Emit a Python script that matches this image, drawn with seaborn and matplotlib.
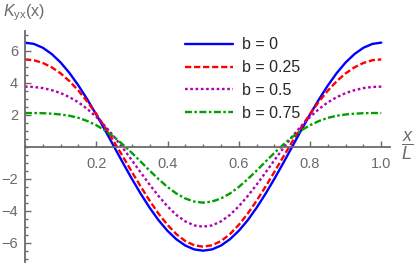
import numpy as np
import pandas as pd
import seaborn as sns
import matplotlib.pyplot as plt
from matplotlib.ticker import MultipleLocator, FixedLocator

x = [0.0, 0.025, 0.05, 0.075, 0.1, 0.125, 0.15, 0.175, 0.2, 0.225, 0.25,
     0.275, 0.3, 0.325, 0.35, 0.375, 0.4, 0.425, 0.45, 0.475, 0.5,
     0.525, 0.55, 0.575, 0.6, 0.625, 0.65, 0.675, 0.7, 0.725, 0.75,
     0.775, 0.8, 0.825, 0.85, 0.875, 0.9, 0.925, 0.95, 0.975, 1.0]

k_b0 = [6.50, 6.42, 6.18, 5.79, 5.26, 4.60, 3.82, 2.95, 2.01, 1.02, 0.00,
        -1.02, -2.01, -2.95, -3.82, -4.60, -5.26, -5.79, -6.18, -6.42, -6.50,
        -6.42, -6.18, -5.79, -5.26, -4.60, -3.82, -2.95, -2.01, -1.02, 0.00,
        1.02, 2.01, 2.95, 3.82, 4.60, 5.26, 5.79, 6.18, 6.42, 6.50]
k_b025 = [5.45, 5.40, 5.23, 4.96, 4.58, 4.09, 3.50, 2.81, 2.04, 1.20, 0.30,
          -0.63, -1.58, -2.50, -3.38, -4.19, -4.89, -5.47, -5.90, -6.16, -6.25,
          -6.16, -5.90, -5.47, -4.89, -4.19, -3.38, -2.50, -1.58, -0.63, 0.30,
          1.20, 2.04, 2.81, 3.50, 4.09, 4.58, 4.96, 5.23, 5.40, 5.45]
k_b05 = [3.75, 3.73, 3.66, 3.53, 3.35, 3.09, 2.77, 2.35, 1.86, 1.28, 0.63,
         -0.09, -0.85, -1.62, -2.38, -3.09, -3.73, -4.27, -4.67, -4.92, -5.00,
         -4.92, -4.67, -4.27, -3.73, -3.09, -2.38, -1.62, -0.85, -0.09, 0.63,
         1.28, 1.86, 2.35, 2.77, 3.09, 3.35, 3.53, 3.66, 3.73, 3.75]
k_b075 = [2.10, 2.10, 2.09, 2.06, 2.01, 1.93, 1.80, 1.60, 1.34, 1.01, 0.60,
          0.13, -0.39, -0.94, -1.50, -2.03, -2.52, -2.93, -3.24, -3.43, -3.50,
          -3.43, -3.24, -2.93, -2.52, -2.03, -1.50, -0.94, -0.39, 0.13, 0.60,
          1.01, 1.34, 1.60, 1.80, 1.93, 2.01, 2.06, 2.09, 2.10, 2.10]

labels = ['b = 0', 'b = 0.25', 'b = 0.5', 'b = 0.75']
colors = ['#0000ff', '#ff0000', '#b000b0', '#00a000']
styles = ['-', (0, (4.5, 2)), (0, (1.9, 1.9)), (0, (5, 1.8, 1.8, 1.8))]

sns.set_style('ticks')
plt.rcParams['font.family'] = ['Liberation Sans', 'DejaVu Sans']
plt.rcParams['mathtext.fontset'] = 'custom'
plt.rcParams['mathtext.it'] = 'Liberation Sans:italic'
plt.rcParams['mathtext.rm'] = 'Liberation Sans'
plt.rcParams['lines.scale_dashes'] = False

gray = '#6a6a6a'
fig = plt.figure(figsize=(4.15, 2.64), dpi=100)
ax = fig.add_axes([0.0602, 0.008, 0.880, 0.873])

for ys, lab, c, ls in zip([k_b0, k_b025, k_b05, k_b075], labels, colors, styles):
    df = pd.DataFrame({'x': x, 'k': ys})
    sns.lineplot(data=df, x='x', y='k', ax=ax, color=c, label=lab,
                 linestyle=ls, linewidth=1.7)

ax.set_xlim(0, 1.025)
ax.set_ylim(-7.2, 7.2)
for s in ['top', 'right']:
    ax.spines[s].set_visible(False)
ax.spines['bottom'].set_position(('data', 0))
ax.spines['left'].set_position(('data', 0))
for s in ['bottom', 'left']:
    ax.spines[s].set_color(gray)
    ax.spines[s].set_linewidth(1.3)

ax.xaxis.set_major_locator(FixedLocator([0.2, 0.4, 0.6, 0.8, 1.0]))
ax.xaxis.set_minor_locator(MultipleLocator(0.05))
ax.yaxis.set_major_locator(FixedLocator([-6, -4, -2, 2, 4, 6]))
ax.yaxis.set_minor_locator(MultipleLocator(0.5))
ax.set_xticklabels(['0.2', '0.4', '0.6', '0.8', '1.0'])
ax.set_yticklabels(['\u22126', '\u22124', '\u22122', '2', '4', '6'])
ax.tick_params(which='both', direction='in', color=gray, labelcolor=gray,
               labelsize=10.5, width=1.0)
ax.tick_params(axis='x', which='major', length=4.5, pad=7.5)
ax.tick_params(axis='y', which='major', length=4.5, pad=5)
ax.tick_params(which='minor', length=2.5)
ax.set_xlabel('')
ax.set_ylabel('')

fig.text(0.008, 1 - 13 / 264, r'$K_{\mathrm{yx}}$(x)', color=gray,
         fontsize=11.5, ha='left', va='center')
fig.text(407 / 415, 1 - 146 / 264, r'$\dfrac{x}{L}$', color=gray,
         fontsize=13, ha='center', va='center')

leg = ax.legend(loc='upper left', bbox_to_anchor=(0.42, 1.003), frameon=False,
                fontsize=11.5, handlelength=3.0, handletextpad=0.6,
                labelspacing=0.5, borderaxespad=0)

fig.savefig('out.png', dpi=100)
